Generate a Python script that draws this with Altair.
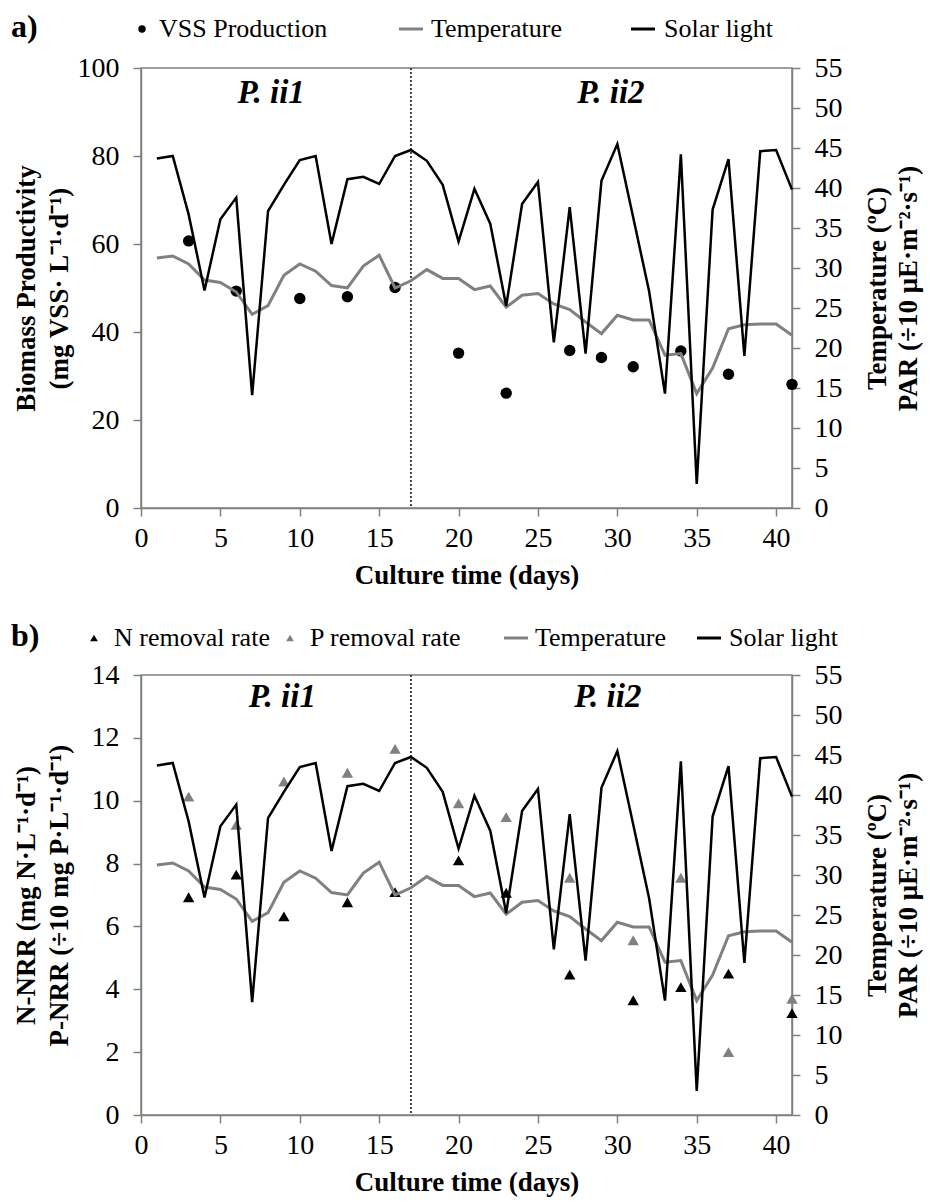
import altair as alt
import pandas as pd

# ---------------- data ----------------
days = list(range(1, 42))
solar_light = [43.7, 44.0, 36.7, 27.2, 36.1, 38.8, 14.1, 37.1, 40.4, 43.5,
               44.0, 33.0, 41.1, 41.4, 40.5, 44.0, 44.75, 43.4, 40.4, 33.3,
               39.9, 35.5, 25.25, 38.0, 40.75, 20.7, 37.6, 19.3, 40.9, 45.5,
               36.3, 27.1, 14.3, 44.2, 3.0, 37.3, 43.6, 19.0, 44.6, 44.75, 39.8]
temperature = [31.25, 31.5, 30.5, 28.5, 28.2, 27.0, 24.2, 25.3, 29.1, 30.5,
               29.6, 27.8, 27.5, 30.25, 31.6, 27.5, 28.4, 29.8, 28.7, 28.7,
               27.3, 27.75, 25.1, 26.6, 26.8, 25.5, 24.8, 23.25, 21.8, 24.1,
               23.5, 23.5, 19.1, 19.3, 14.3, 17.5, 22.4, 22.9, 23.0, 23.0, 21.6]

vss_days = [3, 6, 10, 13, 16, 20, 23, 27, 29, 31, 34, 37, 41]
vss_production = [60.7, 49.3, 47.6, 48.0, 50.1, 35.2, 26.1, 35.8, 34.2, 32.1, 35.7, 30.4, 28.1]

nutrient_days = [3, 6, 9, 13, 16, 20, 23, 27, 31, 34, 37, 41]
n_removal = [6.93, 7.65, 6.32, 6.77, 7.09, 8.10, 7.07, 4.47, 3.65, 4.07, 4.50, 3.24]
p_removal = [10.13, 9.23, 10.61, 10.89, 11.65, 9.92, 9.48, 7.55, 5.56, 7.55, 2.00, 3.70]

phase_boundary = [17]
phase_names = ["P. ii1", "P. ii2"]
phase_label_day_a = [8.2, 29.6]
phase_label_val_a = [94.3, 94.3]
phase_label_day_b = [8.9, 29.4]
phase_label_val_b = [13.3, 13.3]

x_ticks = [0, 5, 10, 15, 20, 25, 30, 35, 40]
left_ticks_a = [0, 20, 40, 60, 80, 100]
left_ticks_b = [0, 2, 4, 6, 8, 10, 12, 14]
right_ticks = [0, 5, 10, 15, 20, 25, 30, 35, 40, 45, 50, 55]

# ---------------- styling ----------------
FONT = "Liberation Serif"
GRAY = "#808080"
W, H = 651, 440


def x_enc():
    return alt.X("day:Q", scale=alt.Scale(domain=[0, 41], nice=False, zero=False),
                 axis=alt.Axis(values=x_ticks, title="Culture time (days)",
                               titlePadding=10, labelPadding=8))


def right_group():
    df = pd.DataFrame({"day": days, "solar": solar_light, "temp": temperature})
    scale = alt.Scale(domain=[0, 55], nice=False)
    axis = alt.Axis(orient="right", values=right_ticks,
                    title=["Temperature (ºC)", "PAR (÷10 μE·m⁻²·s⁻¹)"],
                    titleAngle=270, titleBaseline="top", titleX=72,
                    titleLineHeight=31, labelPadding=14)
    temp = alt.Chart(df).mark_line(color=GRAY, strokeWidth=3).encode(
        x=x_enc(), y=alt.Y("temp:Q", scale=scale, axis=axis))
    solar = alt.Chart(df).mark_line(color="black", strokeWidth=2.5).encode(
        x=x_enc(), y=alt.Y("solar:Q", scale=scale, axis=axis))
    return alt.layer(temp, solar)


def one_row(label):
    return pd.DataFrame({"label": [label]})


def header(tag, hy, items):
    layers = [alt.Chart(one_row(tag)).mark_text(
        font=FONT, fontSize=32, fontWeight="bold", align="left", baseline="middle",
        color="black").encode(x=alt.value(-130), y=alt.value(hy - 2), text="label:N")]
    for kind, color, label, xpos, tx in items:
        if kind == "circle":
            layers.append(alt.Chart(one_row(label)).mark_point(
                shape="circle", filled=True, size=55, color=color, opacity=1).encode(
                x=alt.value(xpos), y=alt.value(hy)))
        elif kind == "triangle":
            layers.append(alt.Chart(one_row(label)).mark_point(
                shape="triangle-up", filled=True, size=60, color=color, opacity=1).encode(
                x=alt.value(xpos), y=alt.value(hy)))
        else:
            layers.append(alt.Chart(one_row(label)).mark_rule(
                color=color, strokeWidth=3).encode(
                x=alt.value(xpos), x2=alt.value(xpos + 24), y=alt.value(hy)))
        layers.append(alt.Chart(one_row(label)).mark_text(
            font=FONT, fontSize=26, align="left", baseline="middle", color="black").encode(
            x=alt.value(tx), y=alt.value(hy), text="label:N"))
    return layers


def divider_and_labels(yscale, label_days, label_vals):
    div = alt.Chart(pd.DataFrame({"day": phase_boundary})).mark_rule(
        color="#404040", strokeWidth=2, strokeDash=[2, 2]).encode(x=x_enc())
    lab_df = pd.DataFrame({"day": label_days, "val": label_vals, "name": phase_names})
    labs = alt.Chart(lab_df).mark_text(
        font=FONT, fontSize=33, fontWeight="bold", fontStyle="italic",
        align="center", baseline="middle", color="black").encode(
        x=x_enc(), y=alt.Y("val:Q", scale=yscale), text="name:N")
    return [div, labs]


# ---------------- panel a ----------------
scale_a = alt.Scale(domain=[0, 100], nice=False)
axis_a = alt.Axis(values=left_ticks_a,
                  title=["Biomass Productivity", "(mg VSS· L⁻¹·d⁻¹)"],
                  titleX=-101, titleLineHeight=33, labelPadding=14)
vss_df = pd.DataFrame({"day": vss_days, "vss": vss_production})
vss = alt.Chart(vss_df).mark_point(shape="circle", filled=True, size=130,
                                   color="black", opacity=1).encode(
    x=x_enc(), y=alt.Y("vss:Q", scale=scale_a, axis=axis_a))

left_a = alt.layer(
    vss,
    *divider_and_labels(scale_a, phase_label_day_a, phase_label_val_a),
    *header("a)", -39, [("circle", "black", "VSS Production", 1, 18),
                        ("line", GRAY, "Temperature", 258, 290),
                        ("line", "black", "Solar light", 490, 523)]),
)
panel_a = alt.layer(left_a, right_group()).resolve_scale(y="independent").properties(
    width=W, height=H)

# ---------------- panel b ----------------
scale_b = alt.Scale(domain=[0, 14], nice=False)
axis_b = alt.Axis(values=left_ticks_b,
                  title=["N-NRR (mg N·L⁻¹·d⁻¹)", "P-NRR (÷10 mg P·L⁻¹·d⁻¹)"],
                  titleX=-101, titleLineHeight=33, labelPadding=14)
nut_df = pd.DataFrame({"day": nutrient_days, "n": n_removal, "p": p_removal})
n_pts = alt.Chart(nut_df).mark_point(shape="triangle-up", filled=True, size=130,
                                     color="black", opacity=1).encode(
    x=x_enc(), y=alt.Y("n:Q", scale=scale_b, axis=axis_b))
p_pts = alt.Chart(nut_df).mark_point(shape="triangle-up", filled=True, size=130,
                                     color=GRAY, opacity=1).encode(
    x=x_enc(), y=alt.Y("p:Q", scale=scale_b, axis=axis_b))

left_b = alt.layer(
    p_pts, n_pts,
    *divider_and_labels(scale_b, phase_label_day_b, phase_label_val_b),
    *header("b)", -37, [("triangle", "black", "N removal rate", -47, -27),
                        ("triangle", GRAY, "P removal rate", 149, 169),
                        ("line", GRAY, "Temperature", 363, 394),
                        ("line", "black", "Solar light", 556, 588)]),
)
panel_b = alt.layer(left_b, right_group()).resolve_scale(y="independent").properties(
    width=W, height=H)

chart = alt.vconcat(panel_a, panel_b, spacing=30).properties(
    padding={"left": 10, "top": 10, "right": 5, "bottom": 5}
).configure_view(stroke=GRAY, strokeWidth=1.5).configure_axis(
    labelFont=FONT, labelFontSize=28, labelColor="black",
    titleFont=FONT, titleFontSize=27, titleFontWeight="bold", titleColor="black",
    domainColor=GRAY, domainWidth=1.5, tickColor=GRAY, tickWidth=1.5, tickSize=8,
    grid=False, labelFlush=False, labelOverlap=False,
)

chart.save("out.html", embed_options={"renderer": "svg", "actions": False})
